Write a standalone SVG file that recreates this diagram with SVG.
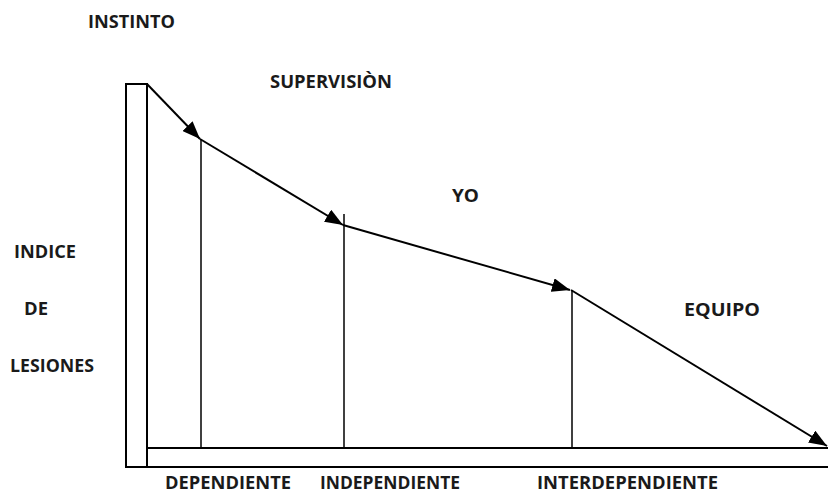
<svg xmlns="http://www.w3.org/2000/svg" width="828" height="495" viewBox="0 0 828 495">
<style>
.t{font-family:"Open Sans","Liberation Sans",sans-serif;font-weight:bold;font-size:17px;fill:#1a1a1a}
.ln{stroke:#000;stroke-width:2;fill:none}
.thin{stroke:#000;stroke-width:1.5;fill:none}
</style>
<defs>
<marker id="ah" viewBox="0 0 10 10" refX="10" refY="5" markerWidth="18" markerHeight="14" markerUnits="userSpaceOnUse" orient="auto" preserveAspectRatio="none">
<path d="M0,0 L10,5 L0,10 Z" fill="#000"/>
</marker>
</defs>
<rect width="828" height="495" fill="#fff"/>
<g id="axis">
<rect x="126" y="84" width="21" height="383" class="ln"/>
<path d="M147,448 H828 M147,467 H828" class="ln"/>
</g>
<g id="connectors">
<line x1="147" y1="84" x2="200" y2="139" class="ln" marker-end="url(#ah)"/>
<line x1="200" y1="139" x2="343" y2="225" class="ln" marker-end="url(#ah)"/>
<line x1="343" y1="225" x2="570" y2="290" class="ln" marker-end="url(#ah)"/>
<line x1="571" y1="290" x2="827" y2="446" class="ln" marker-end="url(#ah)"/>
<line x1="201" y1="139" x2="201" y2="448" class="thin"/>
<line x1="344" y1="214" x2="344" y2="448" class="thin"/>
<line x1="572" y1="290" x2="572" y2="448" class="thin"/>
</g>
<g id="labels">
<text class="t" x="88" y="28" textLength="87" lengthAdjust="spacingAndGlyphs">INSTINTO</text>
<text class="t" x="270" y="88" textLength="122" lengthAdjust="spacingAndGlyphs">SUPERVISIÒN</text>
<text class="t" x="452" y="202" textLength="27" lengthAdjust="spacingAndGlyphs">YO</text>
<text class="t" x="14" y="258" textLength="62" lengthAdjust="spacingAndGlyphs">INDICE</text>
<text class="t" x="24" y="315" textLength="24" lengthAdjust="spacingAndGlyphs">DE</text>
<text class="t" x="10" y="372" textLength="84" lengthAdjust="spacingAndGlyphs">LESIONES</text>
<text class="t" x="684" y="316" textLength="76" lengthAdjust="spacingAndGlyphs">EQUIPO</text>
<text class="t" x="165" y="489" textLength="126" lengthAdjust="spacingAndGlyphs">DEPENDIENTE</text>
<text class="t" x="320" y="489" textLength="140" lengthAdjust="spacingAndGlyphs">INDEPENDIENTE</text>
<text class="t" x="537" y="489" textLength="181" lengthAdjust="spacingAndGlyphs">INTERDEPENDIENTE</text>
</g>
</svg>
